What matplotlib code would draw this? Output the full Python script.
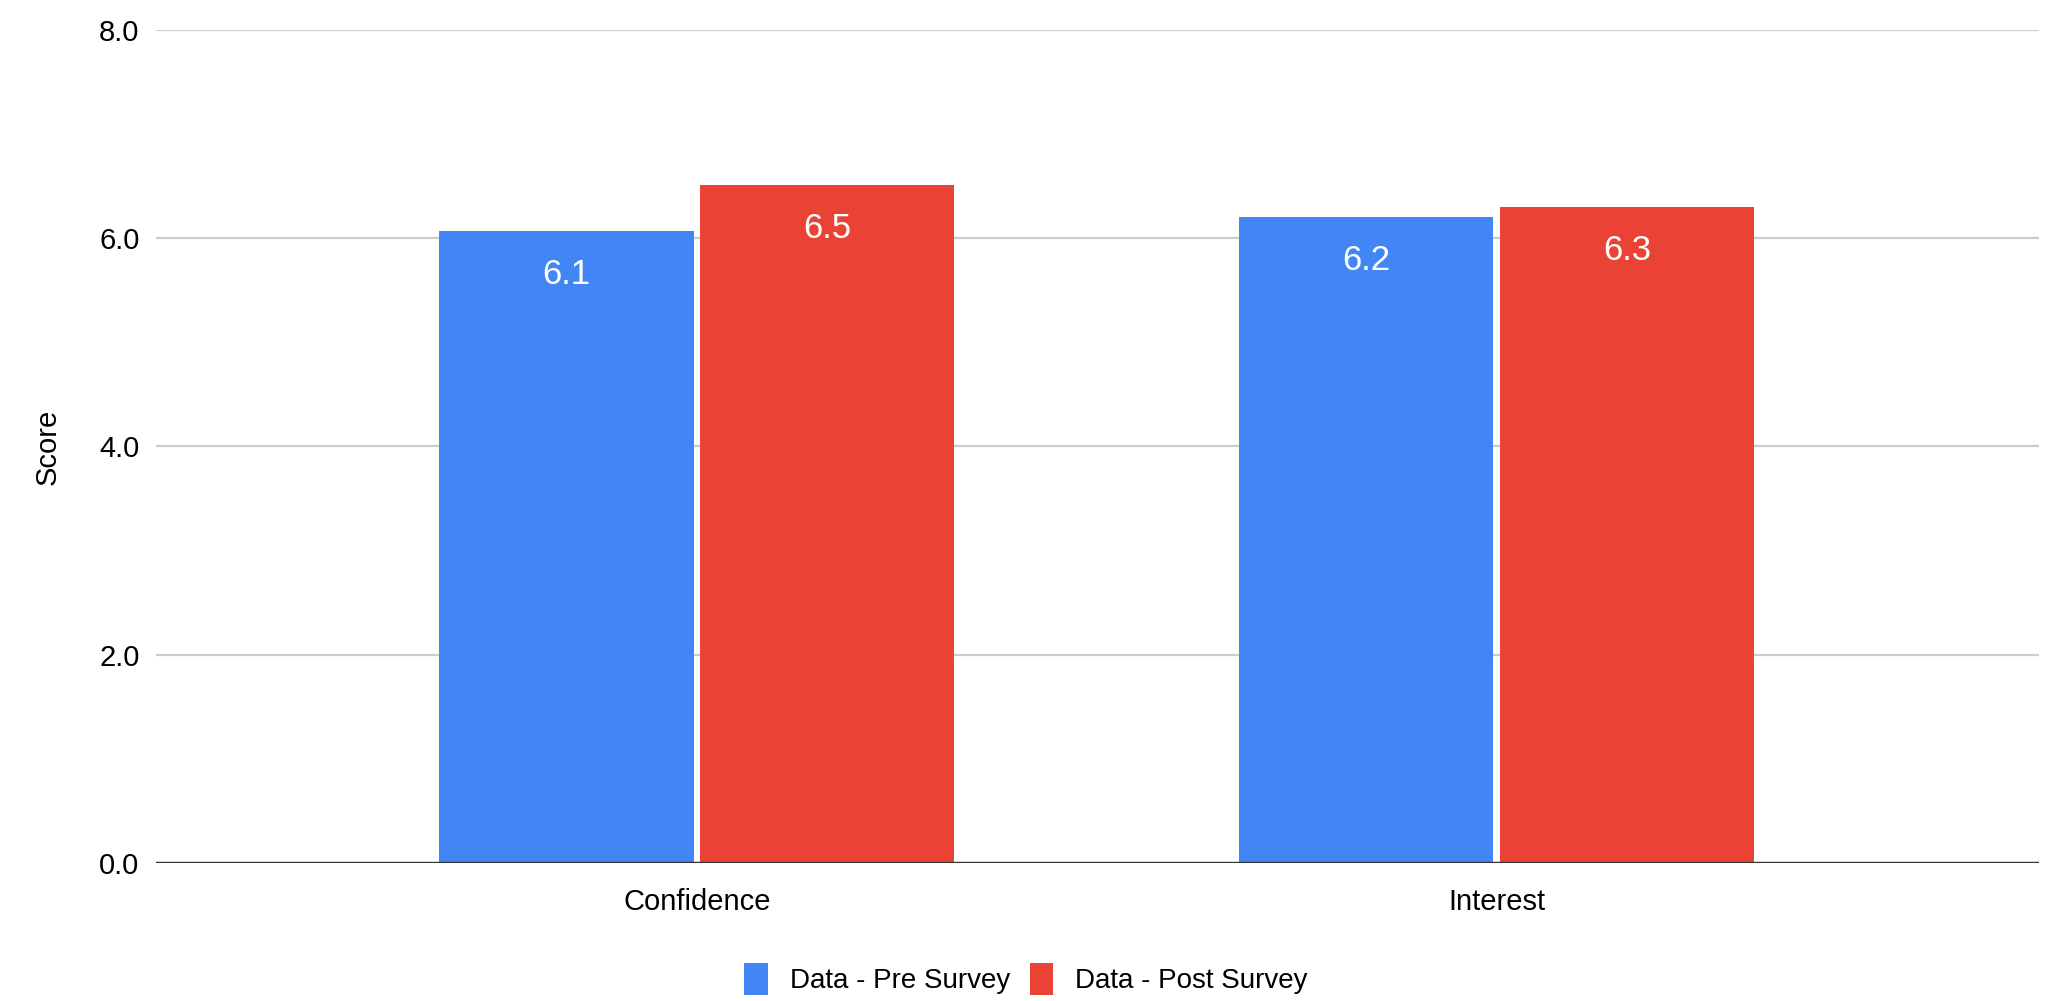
import numpy as np
import matplotlib
matplotlib.use("Agg")
import matplotlib.pyplot as plt

# values
categories = ["Confidence", "Interest"]
pre_survey = [6.07, 6.20]
post_survey = [6.51, 6.30]
series_names = ["Data - Pre Survey", "Data - Post Survey"]
y_ticks = [0.0, 2.0, 4.0, 6.0, 8.0]

BLUE = "#4285F4"
RED = "#EA4335"
FONT = ["Liberation Sans", "DejaVu Sans"]

fig = plt.figure(figsize=(20.56, 10.01), dpi=100)
ax = fig.add_axes([0.0759, 0.1379, 0.9158, 0.8321])

x = np.arange(len(categories))
off = 0.163
width = 0.318
b1 = ax.bar(x - off, pre_survey, width, color=BLUE, zorder=3, label=series_names[0])
b2 = ax.bar(x + off, post_survey, width, color=RED, zorder=3, label=series_names[1])

for bars in (b1, b2):
    for rect in bars:
        h = rect.get_height()
        ax.annotate(f"{h:.1f}", (rect.get_x() + rect.get_width() / 2, h),
                    xytext=(0, -31), textcoords="offset points",
                    ha="center", va="center", color="white",
                    fontsize=25, family=FONT, zorder=4)

ax.set_ylim(0, 8)
ax.set_xlim(-0.676, 1.678)
ax.set_yticks(y_ticks)
ax.set_yticklabels([f"{t:.1f}" for t in y_ticks], family=FONT, fontsize=21)
ax.set_xticks(x)
ax.set_xticklabels(categories, family=FONT, fontsize=21)
ax.tick_params(axis="both", length=0)
ax.tick_params(axis="y", pad=12)
ax.tick_params(axis="x", pad=18)

ax.grid(axis="y", color="#cccccc", linewidth=1.6, zorder=0)
ax.axhline(0, color="#333333", linewidth=2.4, zorder=5)
for s in ax.spines.values():
    s.set_visible(False)

ax.set_ylabel("Score", fontsize=21, family=FONT)
ax.yaxis.set_label_coords(-0.050, 0.5)

fig.legend(handles=[b1, b2], labels=series_names, loc="center",
           bbox_to_anchor=(0.499, 0.022), ncol=2, frameon=False,
           prop={"family": FONT, "size": 20},
           handlelength=0.85, handleheight=1.4, handletextpad=0.8,
           columnspacing=0.7)

fig.savefig("out.png", dpi=100)
